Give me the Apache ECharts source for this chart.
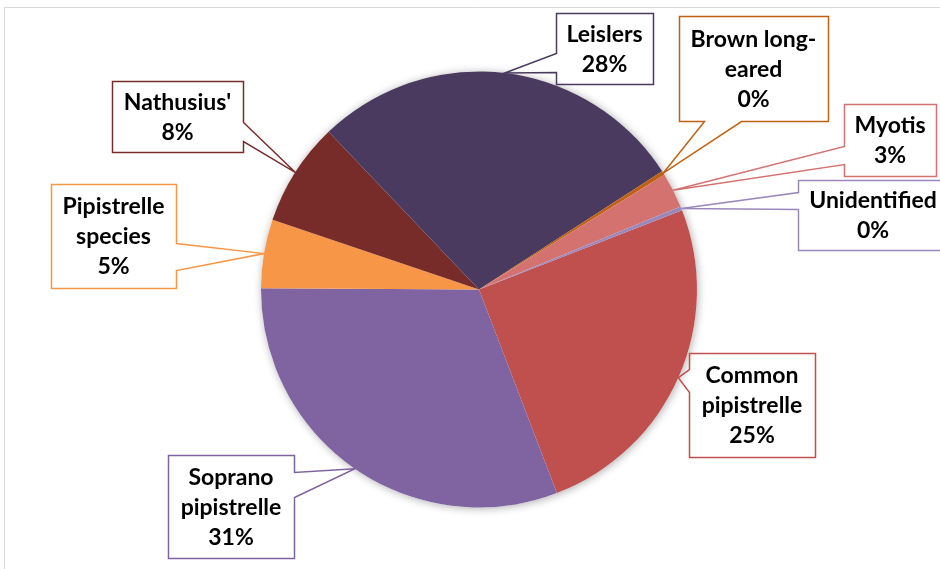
<!DOCTYPE html>
<html>
<head>
<meta charset="utf-8">
<script src="https://cdn.jsdelivr.net/npm/echarts@6/dist/echarts.min.js"></script>
<style>
  html, body { margin: 0; padding: 0; background: #fff; }
  #chart { width: 940px; height: 569px; }
</style>
</head>
<body>
<div id="chart"></div>
<script>
// Bat species recorded, share of all passes (%)
const species = ['Common\npipistrelle', 'Soprano\npipistrelle', 'Pipistrelle\nspecies', "Nathusius'",
                 'Leislers', 'Brown long-\neared', 'Myotis', 'Unidentified'];
const sharePercent = [25.1, 30.9, 5.1, 7.7, 28.0, 0.3, 2.6, 0.3];
const sliceColors = ['#C0504D', '#8064A2', '#F79646', '#772C2A', '#4B3A5F', '#BF6110', '#D3726E', '#9A87BC'];

// Callout boxes: [left, top, right, bottom], which side carries the pointer,
// and where the pointer meets that side.
const callouts = [
  { box: [689, 353, 815, 457], side: 'left',   base: [369, 392] },
  { box: [168, 455, 294, 558], side: 'right',  base: [472, 497] },
  { box: [51, 184, 176, 288],  side: 'right',  base: [243, 270] },
  { box: [112, 81, 243, 152],  side: 'right',  base: [122, 141] },
  { box: [556, 13, 653, 84],   side: 'left',   base: [53, 72] },
  { box: [679, 16, 828, 121],  side: 'bottom', base: [704, 741] },
  { box: [844, 104, 936, 176], side: 'left',   base: [146, 164] },
  { box: [798, 180, 948, 250], side: 'left',   base: [192, 209] }
];

const PIE_CENTER = [479, 289.5];
const PIE_RADIUS = 218;

// Outline of a callout: rectangle walked clockwise with a pointer to the slice.
function calloutOutline(c, tip) {
  const [l, t, r, b] = c.box.map(v => v + 0.5);
  const [p, q] = c.base.map(v => v + 0.5);
  const pts = [[l, t]];
  if (c.side === 'top') pts.push([p, t], tip, [q, t]);
  pts.push([r, t]);
  if (c.side === 'right') pts.push([r, p], tip, [r, q]);
  pts.push([r, b]);
  if (c.side === 'bottom') pts.push([q, b], tip, [p, b]);
  pts.push([l, b]);
  if (c.side === 'left') pts.push([l, q], tip, [l, p]);
  pts.push([l, t], [l + 2, t]);
  return pts;
}

const chart = echarts.init(document.getElementById('chart'), null, { renderer: 'canvas' });

chart.setOption({
  animation: false,
  backgroundColor: '#fff',
  graphic: [{
    type: 'rect',
    silent: true,
    shape: { x: 4.5, y: 7.5, width: 1200, height: 1200 },
    style: { fill: 'none', stroke: '#D9D9D9', lineWidth: 1 }
  }],
  series: [
    {
      // soft halo under the pie
      type: 'pie',
      silent: true,
      center: PIE_CENTER,
      radius: PIE_RADIUS,
      z: 1,
      label: { show: false },
      labelLine: { show: false },
      itemStyle: { color: '#fff', shadowBlur: 9, shadowColor: 'rgba(0,0,0,0.32)', shadowOffsetX: 1, shadowOffsetY: 1 },
      data: [{ value: 1, name: '' }]
    },
    {
      type: 'pie',
      z: 2,
      center: PIE_CENTER,
      radius: PIE_RADIUS,
      startAngle: 21.3,
      clockwise: true,
      avoidLabelOverlap: false,
      emphasis: { disabled: true },
      itemStyle: { borderWidth: 0 },
      label: {
        show: true,
        position: 'outside',
        formatter: p => p.name + '\n' + Math.round(p.percent) + '%',
        fontFamily: 'Lato',
        fontWeight: 'bold',
        fontSize: 23,
        lineHeight: 30,
        color: '#000',
        align: 'center',
        width: 180,
        overflow: 'none'
      },
      labelLine: {
        show: true,
        length: 6,
        length2: 6,
        smooth: false,
        lineStyle: { width: 1.5, join: 'miter' }
      },
      labelLayout: function (params) {
        const c = callouts[params.dataIndex];
        const [l, t, r, b] = c.box;
        const tip = params.labelLinePoints ? params.labelLinePoints[0].slice() : PIE_CENTER.slice();
        return {
          x: (l + r) / 2,
          y: (t + b) / 2 + 1,
          align: 'center',
          verticalAlign: 'middle',
          labelLinePoints: calloutOutline(c, tip)
        };
      },
      data: species.map((name, i) => ({
        name: name,
        value: sharePercent[i],
        itemStyle: { color: sliceColors[i] }
      }))
    }
  ]
});
</script>
</body>
</html>
